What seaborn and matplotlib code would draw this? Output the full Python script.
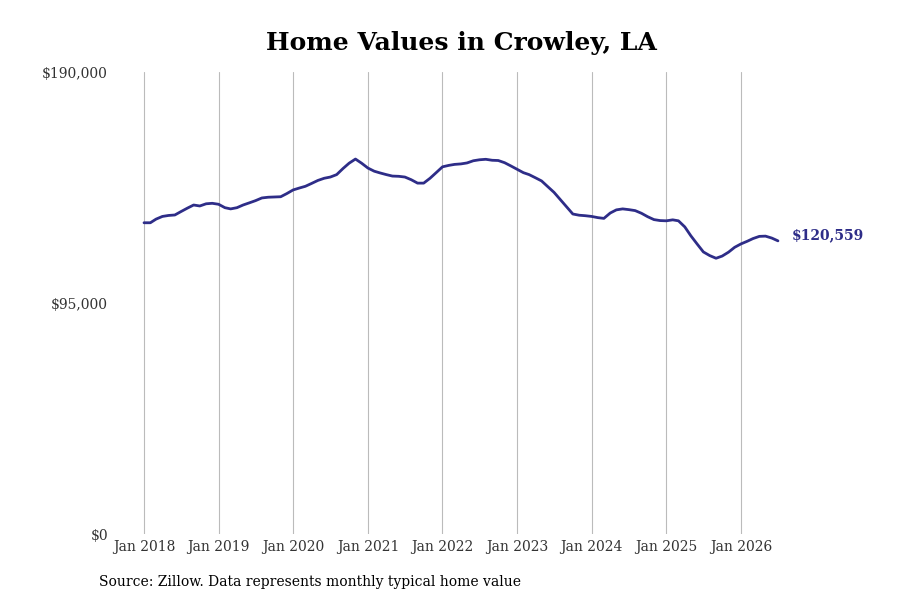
import pandas as pd
import seaborn as sns
import matplotlib.pyplot as plt
import matplotlib.dates as mdates
from matplotlib.ticker import FuncFormatter

# monthly typical home value, Jan 2018 - Jul 2026 (in $k)
values_2018 = [128.0, 128.0, 129.5, 130.6, 131.0, 131.2, 132.6, 134.0, 135.3, 134.9, 135.8, 136.0]
values_2019 = [135.6, 134.2, 133.7, 134.2, 135.3, 136.2, 137.1, 138.2, 138.5, 138.6, 138.7, 140.0]
values_2020 = [141.5, 142.3, 143.0, 144.2, 145.4, 146.3, 146.8, 147.8, 150.3, 152.5, 154.2, 152.5]
values_2021 = [150.5, 149.2, 148.5, 147.8, 147.2, 147.1, 146.8, 145.7, 144.3, 144.3, 146.3, 148.6]
values_2022 = [151.0, 151.6, 152.0, 152.2, 152.6, 153.5, 153.9, 154.1, 153.7, 153.6, 152.7, 151.4]
values_2023 = [150.0, 148.6, 147.8, 146.5, 145.2, 142.8, 140.5, 137.5, 134.5, 131.6, 131.1, 130.9]
values_2024 = [130.6, 130.1, 129.8, 132.0, 133.3, 133.7, 133.4, 133.0, 131.9, 130.5, 129.3, 128.9]
values_2025 = [128.8, 129.2, 128.8, 126.3, 122.6, 119.2, 116.0, 114.5, 113.4, 114.3, 115.9, 117.9]
values_2026 = [119.3, 120.4, 121.5, 122.4, 122.5, 121.7, 120.559]

values = (values_2018 + values_2019 + values_2020 + values_2021 + values_2022
          + values_2023 + values_2024 + values_2025 + values_2026)
dates = pd.date_range("2018-01-01", periods=len(values), freq="MS")
df = pd.DataFrame({"date": dates, "value": [v * 1000 for v in values]})

last_label = "$120,559"
y_ticks = [0, 95000, 190000]
line_color = "#2e2d88"

sns.set_style("white")
plt.rcParams["font.family"] = ["DejaVu Serif"]

fig = plt.figure(figsize=(9, 6), dpi=100)
ax = fig.add_axes([115 / 900, 1 - 534 / 600, 675 / 900, 462 / 600])

sns.lineplot(data=df, x="date", y="value", ax=ax, color=line_color, linewidth=2)

# x range so Jan 2018 / Jan 2026 land where they do in the reference
ax.set_xlim(pd.Timestamp("2018-01-01") - pd.Timedelta(days=142),
            pd.Timestamp("2026-01-01") + pd.Timedelta(days=240))
ax.set_ylim(0, 190000)

ax.xaxis.set_major_locator(mdates.YearLocator())
ax.xaxis.set_major_formatter(mdates.DateFormatter("%b %Y"))
ax.set_yticks(y_ticks)
ax.yaxis.set_major_formatter(FuncFormatter(lambda v, p: f"${v:,.0f}"))

ax.grid(axis="x", color="#bbbbbb", linewidth=0.8)
ax.grid(axis="y", visible=False)
for s in ax.spines.values():
    s.set_visible(False)
ax.tick_params(axis="both", length=0, labelsize=10, labelcolor="#333333")
ax.tick_params(axis="x", pad=4)
ax.tick_params(axis="y", pad=5)
ax.set_xlabel("")
ax.set_ylabel("")

ax.annotate(last_label, xy=(df["date"].iloc[-1], df["value"].iloc[-1]),
            xytext=(10, 4), textcoords="offset points", va="center", ha="left",
            fontsize=10, fontweight="bold", color=line_color)

fig.text(461 / 900, 1 - 43 / 600, "Home Values in Crowley, LA",
         ha="center", va="center", fontsize=18, fontweight="bold", color="black")
fig.text(99 / 900, 1 - 582 / 600, "Source: Zillow. Data represents monthly typical home value",
         ha="left", va="center", fontsize=10, color="black")

fig.savefig("out.png", dpi=100)
